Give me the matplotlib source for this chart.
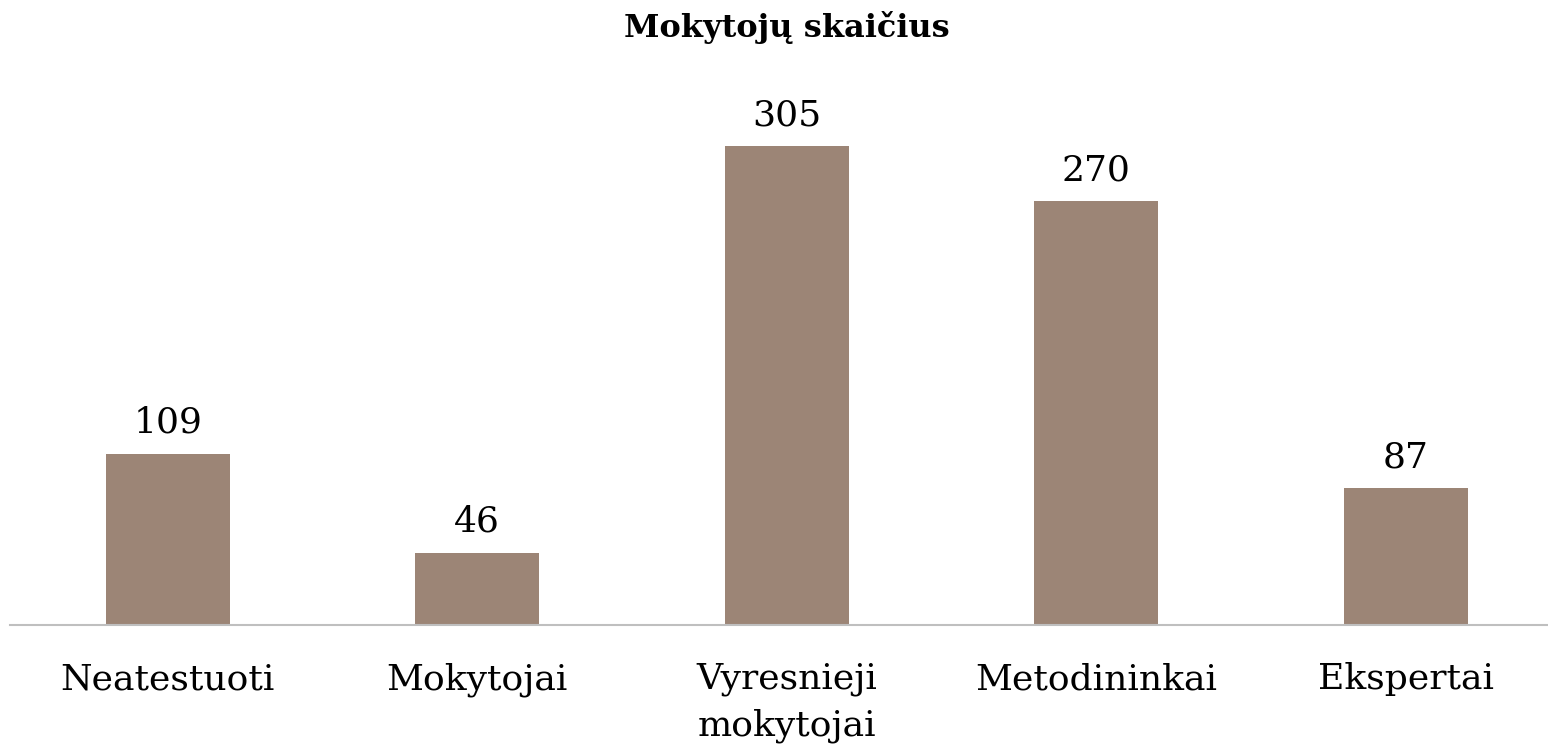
import matplotlib.pyplot as plt

categories = ['Neatestuoti', 'Mokytojai', 'Vyresnieji\nmokytojai', 'Metodininkai', 'Ekspertai']
values = [109, 46, 305, 270, 87]

plt.rcParams['font.family'] = ['DejaVu Serif']

fig = plt.figure(figsize=(15.48, 7.49), dpi=100)
ax = fig.add_axes([10 / 1548, 124 / 749, 1538 / 1548, 545 / 749])

x = range(len(categories))
bars = ax.bar(x, values, width=0.4, color='#9c8576')

for b, v in zip(bars, values):
    ax.annotate(str(v), (b.get_x() + b.get_width() / 2, v), xytext=(0, 10),
                textcoords='offset points', ha='center', va='bottom', fontsize=26)

ax.set_xlim(-0.51, 4.46)
ax.set_ylim(0, 347)
ax.set_xticks(list(x))
ax.set_xticklabels(categories, fontsize=26, linespacing=1.45)
ax.tick_params(axis='x', length=0, pad=27)
ax.set_yticks([])
for s in ['top', 'right', 'left']:
    ax.spines[s].set_visible(False)
ax.spines['bottom'].set_color('#bfbfbf')
ax.spines['bottom'].set_linewidth(1.5)

fig.text(787 / 1548, 1 - 28 / 749, 'Mokytojų skaičius', ha='center', va='center',
         fontsize=23, fontweight='bold')

fig.savefig('out.png', dpi=100)
